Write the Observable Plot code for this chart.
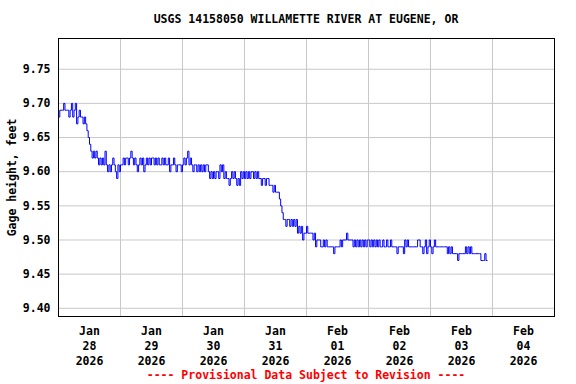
<!DOCTYPE html>
<html>
<head>
<meta charset="utf-8">
<script src="https://cdn.jsdelivr.net/npm/d3@7"></script>
<script src="https://cdn.jsdelivr.net/npm/@observablehq/plot@0.6"></script>
<style>
  html, body { margin: 0; padding: 0; background: white; }
  body { position: relative; width: 576px; height: 384px; overflow: hidden; font-family: "DejaVu Sans Mono", monospace; font-weight: bold; }
  #title { position: absolute; left: 0; top: 12px; width: 576px; box-sizing: border-box; padding-left: 36px; text-align: center; font-size: 11.5px; line-height: 14px; color: black; }
  #chart { position: absolute; left: 0; top: 30px; }
  #caption { position: absolute; left: 0; top: 368px; width: 576px; box-sizing: border-box; padding-left: 36px; text-align: center; font-size: 11.5px; line-height: 14px; color: #ff0000; }
</style>
</head>
<body>
<div id="title">USGS 14158050 WILLAMETTE RIVER AT EUGENE, OR</div>
<div id="chart"></div>
<div id="caption">---- Provisional Data Subject to Revision ----</div>
<script>
// Gage height, feet — readings every 30 minutes starting 2026-01-28 00:00
const titleText = "USGS 14158050 WILLAMETTE RIVER AT EUGENE, OR";
const yLabel = "Gage height, feet";
const startTime = "2026-01-28T00:00:00Z";
const intervalMinutes = 30;

const jan28 = [9.68,9.69,9.69,9.69,9.70,9.69,9.69,9.69,9.68,9.69,9.70,9.68,9.69,9.70,9.67,9.68,
               9.69,9.68,9.68,9.67,9.68,9.67,9.66,9.65,9.64,9.63,9.62,9.63,9.62,9.63,9.62,9.61,
               9.62,9.61,9.62,9.61,9.63,9.61,9.60,9.61,9.60,9.61,9.62,9.61,9.60,9.59,9.61,9.60];
const jan29 = [9.61,9.61,9.62,9.61,9.62,9.62,9.61,9.62,9.63,9.62,9.61,9.62,9.61,9.60,9.61,9.62,
               9.61,9.62,9.60,9.61,9.62,9.61,9.62,9.61,9.62,9.62,9.61,9.62,9.61,9.62,9.61,9.61,
               9.62,9.61,9.62,9.61,9.61,9.62,9.60,9.61,9.61,9.62,9.61,9.60,9.61,9.61,9.61,9.60];
const jan30 = [9.61,9.62,9.61,9.62,9.63,9.61,9.62,9.61,9.60,9.61,9.61,9.60,9.61,9.60,9.61,9.60,
               9.61,9.60,9.61,9.61,9.60,9.59,9.60,9.59,9.60,9.59,9.60,9.60,9.59,9.61,9.60,9.61,
               9.59,9.60,9.59,9.59,9.58,9.59,9.60,9.59,9.60,9.59,9.58,9.59,9.58,9.60,9.59,9.60];
const jan31 = [9.59,9.60,9.59,9.60,9.59,9.60,9.60,9.59,9.60,9.59,9.60,9.59,9.59,9.58,9.59,9.59,
               9.58,9.59,9.59,9.58,9.58,9.58,9.57,9.58,9.57,9.57,9.57,9.56,9.55,9.54,9.53,9.53,
               9.52,9.53,9.53,9.52,9.53,9.52,9.53,9.52,9.53,9.51,9.52,9.51,9.52,9.50,9.51,9.51];
const feb01 = [9.52,9.51,9.51,9.51,9.51,9.50,9.51,9.49,9.50,9.50,9.50,9.49,9.49,9.50,9.49,9.50,
               9.49,9.49,9.49,9.49,9.49,9.48,9.49,9.49,9.49,9.49,9.50,9.49,9.50,9.50,9.50,9.51,
               9.50,9.50,9.50,9.50,9.49,9.50,9.49,9.50,9.49,9.50,9.49,9.50,9.49,9.50,9.49,9.50];
const feb02 = [9.50,9.49,9.50,9.49,9.50,9.49,9.50,9.49,9.50,9.49,9.49,9.50,9.49,9.49,9.50,9.49,
               9.49,9.50,9.49,9.49,9.49,9.49,9.48,9.49,9.49,9.49,9.49,9.48,9.50,9.49,9.50,9.49,
               9.49,9.49,9.49,9.49,9.49,9.49,9.50,9.50,9.49,9.49,9.48,9.49,9.50,9.48,9.49,9.50];
const feb03 = [9.49,9.48,9.49,9.50,9.49,9.49,9.49,9.49,9.49,9.49,9.49,9.49,9.49,9.48,9.49,9.48,
               9.49,9.48,9.48,9.48,9.48,9.47,9.48,9.48,9.48,9.48,9.48,9.49,9.48,9.49,9.48,9.49,
               9.48,9.48,9.48,9.48,9.48,9.48,9.48,9.47,9.47,9.47,9.48,9.47,9.47];

const yTicks = [9.40, 9.45, 9.50, 9.55, 9.60, 9.65, 9.70, 9.75];
const dayLabels = ["Jan\n28\n2026","Jan\n29\n2026","Jan\n30\n2026","Jan\n31\n2026",
                   "Feb\n01\n2026","Feb\n02\n2026","Feb\n03\n2026","Feb\n04\n2026"];
const dayDates = ["2026-01-28","2026-01-29","2026-01-30","2026-01-31",
                  "2026-02-01","2026-02-02","2026-02-03","2026-02-04","2026-02-05"];

const values = [...jan28, ...jan29, ...jan30, ...jan31, ...feb01, ...feb02, ...feb03];
const t0 = new Date(startTime).getTime();
const data = values.map((v, i) => ({time: new Date(t0 + i * intervalMinutes * 60000), value: v}));

const midnights = dayDates.map(d => new Date(d + "T00:00:00Z"));
const noons = dayDates.slice(0, 8).map(d => new Date(d + "T12:00:00Z"));
const labelFor = new Map(noons.map((d, i) => [d.getTime(), dayLabels[i]]));

const chart = Plot.plot({
  width: 576,
  height: 336,
  marginTop: 8,
  marginBottom: 50,
  marginLeft: 58,
  marginRight: 22,
  style: {fontFamily: "'DejaVu Sans Mono', monospace", fontWeight: "bold", fontSize: "11.5px", background: "white", color: "black", overflow: "visible"},
  x: {type: "utc", domain: [midnights[0], midnights[8]]},
  y: {domain: [9.388, 9.795]},
  marks: [
    Plot.gridY(yTicks, {stroke: "#c8c8c8", strokeOpacity: 1, strokeWidth: 1}),
    Plot.gridX(midnights.slice(1, 8), {stroke: "#c8c8c8", strokeOpacity: 1, strokeWidth: 1}),
    Plot.line(data, {x: "time", y: "value", stroke: "#0000ff", strokeWidth: 1, curve: "step-after"}),
    Plot.frame({stroke: "black", strokeWidth: 1}),
    Plot.axisY(yTicks, {tickSize: 0, tickPadding: 8, tickFormat: d3.format(".2f"), label: yLabel, labelAnchor: "center", labelArrow: "none", labelOffset: 51, fontSize: 11.5}),
    Plot.axisX(noons, {tickSize: 0, tickPadding: 8, tickFormat: d => labelFor.get(d.getTime()), lineHeight: 1.3, label: null, fontSize: 11.5})
  ]
});
document.getElementById("chart").appendChild(chart);
</script>
</body>
</html>
